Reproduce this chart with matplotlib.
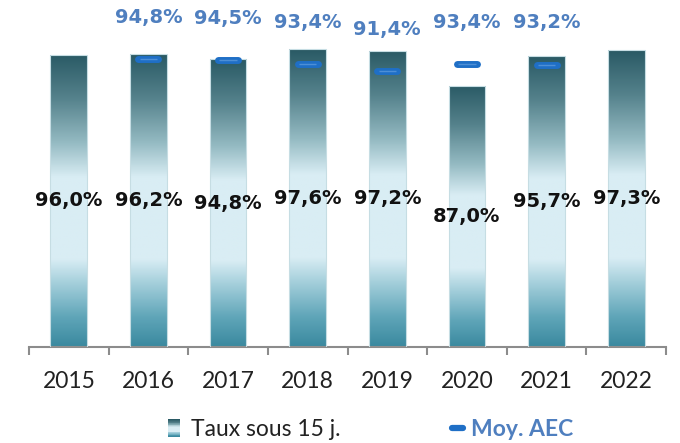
import numpy as np
import matplotlib
matplotlib.use("Agg")
import matplotlib.pyplot as plt
from matplotlib.colors import LinearSegmentedColormap
from matplotlib.patches import Rectangle
from matplotlib.lines import Line2D
from matplotlib.legend_handler import HandlerBase

plt.rcParams['font.family'] = ['Lato', 'DejaVu Sans']

# données
annees = ['2015', '2016', '2017', '2018', '2019', '2020', '2021', '2022']
taux_15j = [96.0, 96.2, 94.8, 97.6, 97.2, 87.0, 95.7, 97.3]
moy_aec = [np.nan, 94.8, 94.5, 93.4, 91.4, 93.4, 93.2, np.nan]
serie_noms = ['Taux sous 15 j.', 'Moy. AEC']

y_base = 11.2  # bas de l'axe
bleu_txt = '#4f7fbf'
bleu_marq = '#1f6fc6'

# dégradé (0 = bas de la barre, 1 = haut)
grad = LinearSegmentedColormap.from_list('grad', [
    (0.00, '#3a899f'),
    (0.10, '#5fa5b8'),
    (0.22, '#a6d0dc'),
    (0.30, '#d9edf4'),
    (0.58, '#d9edf4'),
    (0.70, '#94bac2'),
    (0.85, '#55828c'),
    (1.00, '#2a5a65'),
])


class HandlerGrad(HandlerBase):
    def create_artists(self, legend, orig_handle, xd, yd, width, height, fontsize, trans):
        n = 24
        size = height * 1.05
        x0 = -xd + width - size * 0.95
        y0 = -yd + (height - size) / 2
        arts = []
        for i in range(n):
            r = Rectangle((x0, y0 + size * i / n), size * 0.7, size / n + 0.3,
                          facecolor=grad(i / (n - 1)), edgecolor='none', transform=trans)
            arts.append(r)
        return arts


class HandlerDash(HandlerBase):
    def create_artists(self, legend, orig_handle, xd, yd, width, height, fontsize, trans):
        ym = -yd + height / 2
        ln = Line2D([-xd + width * 0.45, -xd + width * 0.95], [ym, ym], lw=4.5, color=bleu_marq,
                    solid_capstyle='round', transform=trans)
        return [ln]


fig = plt.figure(figsize=(6.8, 4.43), dpi=100)
ax = fig.add_axes([29 / 680, 96 / 443, 637 / 680, 305.8 / 443])

x = np.arange(len(annees))
hauteurs = [v - y_base for v in taux_15j]
bars = ax.bar(x, hauteurs, bottom=y_base, width=0.46, color='none',
              edgecolor='#c6dde3', linewidth=0.8, zorder=3)

# remplissage en dégradé de chaque barre
grad_img = np.linspace(0, 1, 256).reshape(-1, 1)
for b in bars:
    x0, y0 = b.get_x(), b.get_y()
    im = ax.imshow(grad_img, cmap=grad, origin='lower', aspect='auto',
                   extent=[x0, x0 + b.get_width(), y0, y0 + b.get_height()], zorder=2)
    im.set_clip_path(b)

ax.bar_label(bars, labels=[f"{v:.1f}%".replace('.', ',') for v in taux_15j],
             label_type='center', fontsize=14, fontweight='bold',
             family='DejaVu Sans', color='#111111', zorder=5)

# moyenne AEC
aec = np.array(moy_aec)
ok = ~np.isnan(aec)
ax.hlines(aec[ok], x[ok] - 0.125, x[ok] + 0.125, colors=bleu_marq, lw=5,
          capstyle='round', zorder=6)
ax.hlines(aec[ok], x[ok] - 0.11, x[ok] + 0.11, colors='#4d8fd6', lw=1.0, zorder=7)
for xi, v in zip(x[ok], aec[ok]):
    ax.annotate(f"{v:.1f}%".replace('.', ','), (xi, v), xytext=(0, 30),
                textcoords='offset points', ha='center', va='center',
                fontsize=14, fontweight='bold', family='DejaVu Sans',
                color=bleu_txt, annotation_clip=False)

ax.set_xlim(-0.5, len(annees) - 0.5)
ax.set_ylim(y_base, 100)
ax.set_xticks(x)
ax.set_xticklabels(annees, fontsize=16.5, color='#222222')
ax.tick_params(axis='x', which='major', length=0, pad=17)
ax.set_xticks(np.arange(-0.5, len(annees)), minor=True)
ax.tick_params(axis='x', which='minor', length=5.5, width=1.5, color='#8c8c8c')
ax.set_yticks([])
for s in ['left', 'right', 'top']:
    ax.spines[s].set_visible(False)
ax.spines['bottom'].set_color('#8c8c8c')
ax.spines['bottom'].set_linewidth(1.5)

h1 = Rectangle((0, 0), 1, 1)
h2 = Line2D([], [])
leg = fig.legend([h1, h2], serie_noms, loc='center', bbox_to_anchor=(0.54, 0.03),
                 ncol=2, frameon=False, fontsize=16.5, handlelength=1.0,
                 handletextpad=0.3, columnspacing=4.4,
                 handler_map={h1: HandlerGrad(), h2: HandlerDash()})
leg.get_texts()[0].set_color('#222222')
leg.get_texts()[1].set_color(bleu_txt)
leg.get_texts()[1].set_fontweight('bold')

fig.savefig('out.png', dpi=100)
